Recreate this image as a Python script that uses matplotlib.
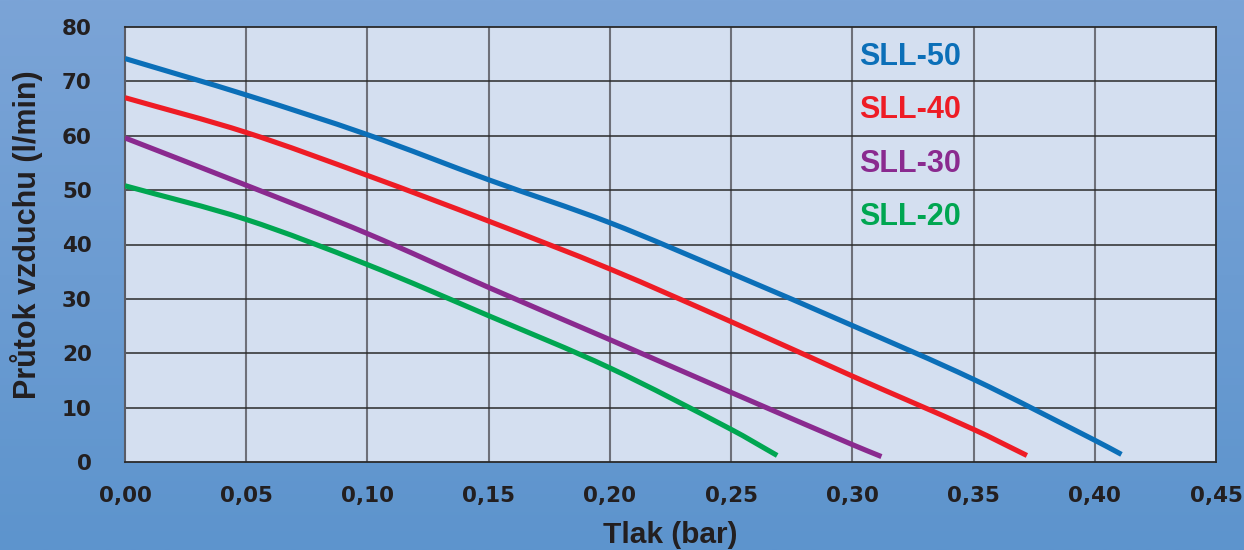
import numpy as np
import matplotlib
matplotlib.use("Agg")
import matplotlib.pyplot as plt
from matplotlib.colors import LinearSegmentedColormap
from matplotlib.path import Path
from matplotlib.patches import PathPatch

# ---- data ----
sll50_x = [0.0, 0.05, 0.10, 0.15, 0.20, 0.25, 0.30, 0.35, 0.40, 0.411]
sll50_y = [74.2, 67.5, 60.2, 51.9, 44.0, 34.7, 25.1, 15.2, 4.0, 1.4]
sll40_x = [0.0, 0.05, 0.10, 0.15, 0.20, 0.25, 0.30, 0.35, 0.372]
sll40_y = [67.0, 60.6, 52.7, 44.3, 35.5, 25.8, 15.8, 6.0, 1.2]
sll30_x = [0.0, 0.05, 0.10, 0.15, 0.20, 0.25, 0.30, 0.312]
sll30_y = [59.6, 50.9, 42.0, 32.1, 22.5, 12.8, 3.2, 1.0]
sll20_x = [0.0, 0.05, 0.10, 0.15, 0.20, 0.25, 0.269]
sll20_y = [50.8, 44.6, 36.3, 26.9, 17.3, 6.0, 1.2]

labels = ["SLL-50", "SLL-40", "SLL-30", "SLL-20"]
label_y = [73.1, 63.2, 53.3, 43.6]
colors = ["#0b6fb8", "#ee1c25", "#8a2a8f", "#00a651"]

x_ticks = [0.0, 0.05, 0.10, 0.15, 0.20, 0.25, 0.30, 0.35, 0.40, 0.45]
x_ticklabels = ["0,00", "0,05", "0,10", "0,15", "0,20", "0,25", "0,30", "0,35", "0,40", "0,45"]
y_ticks = [0, 10, 20, 30, 40, 50, 60, 70, 80]

FONT = "Liberation Sans"
TICKFONT = "DejaVu Sans"
TXT = "#231f20"


def smooth_path(xs, ys):
    """Cubic Hermite curve through the read points (x used as parameter)."""
    x = np.asarray(xs, float)
    y = np.asarray(ys, float)
    n = len(x)
    m = np.empty(n)
    m[0] = (y[1] - y[0]) / (x[1] - x[0])
    m[-1] = (y[-1] - y[-2]) / (x[-1] - x[-2])
    for i in range(1, n - 1):
        m[i] = (y[i + 1] - y[i - 1]) / (x[i + 1] - x[i - 1])
    verts = [(x[0], y[0])]
    codes = [Path.MOVETO]
    for i in range(n - 1):
        h = x[i + 1] - x[i]
        verts += [(x[i] + h / 3, y[i] + h / 3 * m[i]),
                  (x[i + 1] - h / 3, y[i + 1] - h / 3 * m[i + 1]),
                  (x[i + 1], y[i + 1])]
        codes += [Path.CURVE4] * 3
    return Path(verts, codes)


fig = plt.figure(figsize=(12.44, 5.5), dpi=100)

# background gradient
bg = fig.add_axes([0, 0, 1, 1], zorder=-10)
cmap = LinearSegmentedColormap.from_list("bg", ["#7ba4d7", "#5d94cd"])
grad = np.linspace(0, 1, 256).reshape(-1, 1)
bg.imshow(grad, aspect="auto", cmap=cmap, extent=[0, 1, 0, 1], origin="upper")
bg.axis("off")

ax = fig.add_axes([125 / 1244, 1 - 462 / 550, (1216 - 125) / 1244, (462 - 27) / 550])
ax.set_facecolor("#d4dff0")
ax.set_xlim(0, 0.45)
ax.set_ylim(0, 80)

# grid
for xv in x_ticks[1:-1]:
    ax.axvline(xv, color="#6e7079", lw=1.5, zorder=1)
for yv in y_ticks[1:-1]:
    ax.axhline(yv, color="#2a2a2a", lw=1.1, zorder=1)

series = [(sll50_x, sll50_y), (sll40_x, sll40_y), (sll30_x, sll30_y), (sll20_x, sll20_y)]
for (xs, ys), c in zip(series, colors):
    patch = PathPatch(smooth_path(xs, ys), facecolor="none", edgecolor=c,
                      lw=3.7, capstyle="butt", joinstyle="round", zorder=3)
    ax.add_patch(patch)

for lab, ly, c in zip(labels, label_y, colors):
    ax.text(0.3028, ly, lab, color=c, fontsize=22, fontweight="bold",
            family=FONT, ha="left", va="baseline", zorder=4)

ax.set_xticks(x_ticks)
ax.set_xticklabels(x_ticklabels)
ax.set_yticks(y_ticks)
ax.tick_params(length=0, labelsize=15.5, labelcolor=TXT)
ax.tick_params(axis="x", pad=17.5)
ax.tick_params(axis="y", pad=24)
for t in ax.get_xticklabels() + ax.get_yticklabels():
    t.set_family(TICKFONT)
    t.set_fontweight("bold")

for side in ["top", "right", "bottom"]:
    ax.spines[side].set_color("#2a2a2a")
    ax.spines[side].set_linewidth(1.3)
ax.spines["left"].set_color("#5a5c66")
ax.spines["left"].set_linewidth(1.5)

fig.text(670 / 1244, 1 - 543 / 550, "Tlak (bar)", ha="center", va="baseline",
         fontsize=21.5, fontweight="bold", family=FONT, color=TXT)
fig.text(27 / 1244, 1 - 235 / 550, "Průtok vzduchu (l/min)", ha="center", va="center",
         rotation=90, fontsize=22, fontweight="bold", family=FONT, color=TXT)

fig.savefig("out.png", dpi=100)
